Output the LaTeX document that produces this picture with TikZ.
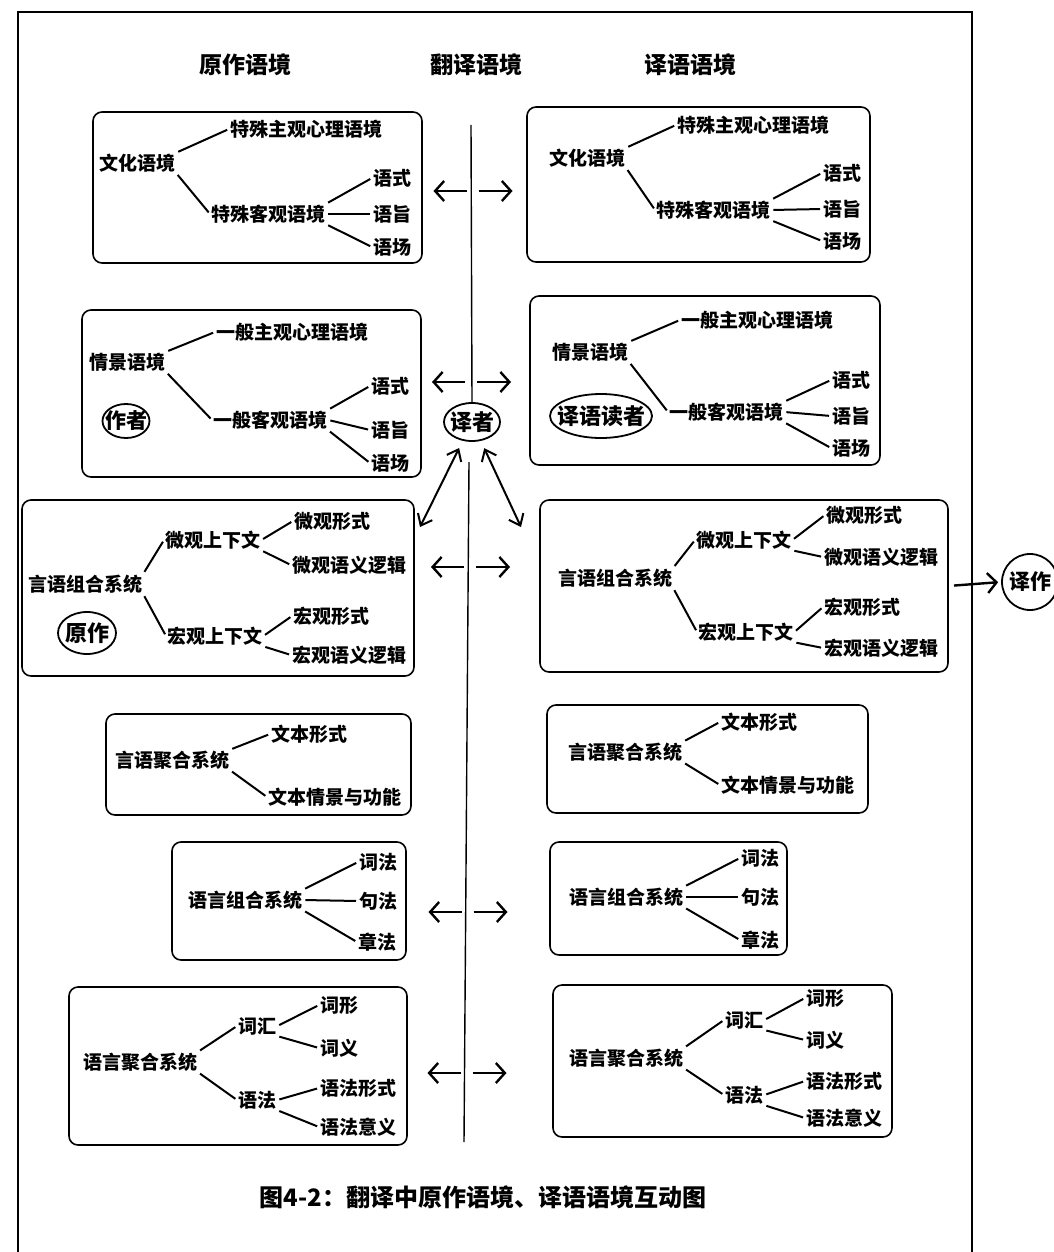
\documentclass[tikz,border=0pt]{standalone}
\usepackage{fontspec}
\setmainfont{Noto Sans CJK SC}
\usetikzlibrary{arrows.meta,shapes.geometric}
\begin{document}
\begin{tikzpicture}[x=1pt,y=-1pt,
  t/.style={font=\bfseries\fontsize{19}{19}\selectfont, inner sep=1pt, anchor=west},
  box/.style={draw, line width=1.6pt, rounded corners=9pt, anchor=north west, inner sep=0pt, outer sep=0pt},
  br/.style={line width=2pt, shorten >=2pt, shorten <=2pt},
  arr/.style={line width=2.4pt, -{Straight Barb[length=9pt,width=20pt]}},
  darr/.style={line width=2pt, {Straight Barb[length=10pt,width=16pt]}-{Straight Barb[length=10pt,width=16pt]}},
  hd/.style={font=\bfseries\fontsize{23}{23}\selectfont},
  circ/.style={draw, ellipse, line width=1.8pt, inner sep=-15pt, font=\bfseries\fontsize{22}{22}\selectfont},
  frame/.style={line width=1.4pt}
]
\useasboundingbox (0,0) rectangle (1053,1252);
% frame
\draw[frame] (18,1252) -- (18,12) -- (972,12) -- (972,1252);
% headings
\node[hd] (h1) at (245,65) {原作语境};
\node[hd] (h2) at (476,65) {翻译语境};
\node[hd] (h3) at (690,65) {译语语境};

% ===== left boxes =====
\node[box, minimum width=329, minimum height=151] (L1) at (93,112) {};
\node[t] (L1p) at (98,163) {文化语境};
\node[t] (L1a) at (229,129) {特殊主观心理语境};
\node[t] (L1b) at (210,214) {特殊客观语境};
\node[t] (L1b1) at (372,178) {语式};
\node[t] (L1b2) at (372,214) {语旨};
\node[t] (L1b3) at (372,247) {语场};
\draw[br] (L1p.north east) -- (L1a.west);
\draw[br] (L1p.south east) -- (L1b.west);
\draw[br] (L1b.north east) -- (L1b1.west);
\draw[br] (L1b.east) -- (L1b2.west);
\draw[br] (L1b.south east) -- (L1b3.west);

\node[box, minimum width=339, minimum height=167] (L2) at (82,310) {};
\node[t] (L2p) at (88,362) {情景语境};
\node[t] (L2a) at (215,332) {一般主观心理语境};
\node[t] (L2b) at (212,420) {一般客观语境};
\node[t] (L2b1) at (370,386) {语式};
\node[t] (L2b2) at (370,430) {语旨};
\node[t] (L2b3) at (370,463) {语场};
\node[circ, minimum width=47, minimum height=34, font=\bfseries\fontsize{21}{21}\selectfont] (zz) at (126,421) {作者};
\draw[br] (L2p.north east) -- (L2a.west);
\draw[br] (L2p.south east) -- (L2b.west);
\draw[br] (L2b.north east) -- (L2b1.west);
\draw[br] (L2b.east) -- (L2b2.west);
\draw[br] (L2b.south east) -- (L2b3.west);

\node[box, minimum width=392, minimum height=176] (L3) at (22,500) {};
\node[t] (L3p) at (27,584) {言语组合系统};
\node[circ, minimum width=58, minimum height=42] (yzo) at (87,633) {原作};
\node[t] (L3a) at (164,540) {微观上下文};
\node[t] (L3a1) at (293,521) {微观形式};
\node[t] (L3a2) at (291,565) {微观语义逻辑};
\node[t] (L3b) at (166,636) {宏观上下文};
\node[t] (L3b1) at (292,616) {宏观形式};
\node[t] (L3b2) at (291,655) {宏观语义逻辑};
\draw[br] (L3p.north east) -- (L3a.west);
\draw[br] (L3p.south east) -- (L3b.west);
\draw[br] (L3a.east) -- (L3a1.west);
\draw[br] (L3a.south east) -- (L3a2.west);
\draw[br] (L3b.east) -- (L3b1.west);
\draw[br] (L3b.south east) -- (L3b2.west);

\node[box, minimum width=305, minimum height=101] (L4) at (106,714) {};
\node[t] (L4p) at (114,760) {言语聚合系统};
\node[t] (L4a) at (270,734) {文本形式};
\node[t] (L4b) at (267,797) {文本情景与功能};
\draw[br] (L4p.north east) -- (L4a.west);
\draw[br] (L4p.south east) -- (L4b.west);

\node[box, minimum width=234, minimum height=118] (L5) at (172,842) {};
\node[t] (L5p) at (187,900) {语言组合系统};
\node[t] (L5a) at (358,862) {词法};
\node[t] (L5b) at (358,901) {句法};
\node[t] (L5c) at (357,942) {章法};
\draw[br] (L5p.north east) -- (L5a.west);
\draw[br] (L5p.east) -- (L5b.west);
\draw[br] (L5p.south east) -- (L5c.west);

\node[box, minimum width=338, minimum height=158] (L6) at (69,987) {};
\node[t] (L6p) at (82,1062) {语言聚合系统};
\node[t] (L6a) at (237,1026) {词汇};
\node[t] (L6a1) at (319,1005) {词形};
\node[t] (L6a2) at (319,1048) {词义};
\node[t] (L6b) at (237,1100) {语法};
\node[t] (L6b1) at (319,1088) {语法形式};
\node[t] (L6b2) at (319,1127) {语法意义};
\draw[br] (L6p.north east) -- (L6a.west);
\draw[br] (L6p.south east) -- (L6b.west);
\draw[br] (L6a.east) -- (L6a1.west);
\draw[br] (L6a.south east) -- (L6a2.west);
\draw[br] (L6b.east) -- (L6b1.west);
\draw[br] (L6b.south east) -- (L6b2.west);

% ===== right boxes =====
\node[box, minimum width=343, minimum height=155] (R1) at (527,107) {};
\node[t] (R1p) at (548,158) {文化语境};
\node[t] (R1a) at (676,125) {特殊主观心理语境};
\node[t] (R1b) at (655,210) {特殊客观语境};
\node[t] (R1b1) at (822,173) {语式};
\node[t] (R1b2) at (822,209) {语旨};
\node[t] (R1b3) at (822,241) {语场};
\draw[br] (R1p.north east) -- (R1a.west);
\draw[br] (R1p.south east) -- (R1b.west);
\draw[br] (R1b.north east) -- (R1b1.west);
\draw[br] (R1b.east) -- (R1b2.west);
\draw[br] (R1b.south east) -- (R1b3.west);

\node[box, minimum width=350, minimum height=169] (R2) at (530,296) {};
\node[t] (R2p) at (551,352) {情景语境};
\node[t] (R2a) at (680,320) {一般主观心理语境};
\node[t] (R2b) at (668,412) {一般客观语境};
\node[t] (R2b1) at (831,380) {语式};
\node[t] (R2b2) at (831,416) {语旨};
\node[t] (R2b3) at (831,448) {语场};
\node[circ, minimum width=102, minimum height=44] (dz) at (601,416) {译语读者};
\draw[br] (R2p.north east) -- (R2a.west);
\draw[br] (R2p.south east) -- (R2b.west);
\draw[br] (R2b.north east) -- (R2b1.west);
\draw[br] (R2b.east) -- (R2b2.west);
\draw[br] (R2b.south east) -- (R2b3.west);

\node[box, minimum width=408, minimum height=172] (R3) at (540,500) {};
\node[t] (R3p) at (557,578) {言语组合系统};
\node[t] (R3a) at (695,540) {微观上下文};
\node[t] (R3a1) at (825,515) {微观形式};
\node[t] (R3a2) at (823,557) {微观语义逻辑};
\node[t] (R3b) at (697,632) {宏观上下文};
\node[t] (R3b1) at (823,607) {宏观形式};
\node[t] (R3b2) at (823,648) {宏观语义逻辑};
\draw[br] (R3p.north east) -- (R3a.west);
\draw[br] (R3p.south east) -- (R3b.west);
\draw[br] (R3a.east) -- (R3a1.west);
\draw[br] (R3a.south east) -- (R3a2.west);
\draw[br] (R3b.east) -- (R3b1.west);
\draw[br] (R3b.south east) -- (R3b2.west);

\node[box, minimum width=321, minimum height=108] (R4) at (547,705) {};
\node[t] (R4p) at (567,752) {言语聚合系统};
\node[t] (R4a) at (720,722) {文本形式};
\node[t] (R4b) at (720,785) {文本情景与功能};
\draw[br] (R4p.north east) -- (R4a.west);
\draw[br] (R4p.south east) -- (R4b.west);

\node[box, minimum width=237, minimum height=113] (R5) at (550,842) {};
\node[t] (R5p) at (568,897) {语言组合系统};
\node[t] (R5a) at (740,858) {词法};
\node[t] (R5b) at (740,897) {句法};
\node[t] (R5c) at (740,940) {章法};
\draw[br] (R5p.north east) -- (R5a.west);
\draw[br] (R5p.east) -- (R5b.west);
\draw[br] (R5p.south east) -- (R5c.west);

\node[box, minimum width=339, minimum height=152] (R6) at (553,985) {};
\node[t] (R6p) at (568,1058) {语言聚合系统};
\node[t] (R6a) at (724,1020) {词汇};
\node[t] (R6a1) at (805,998) {词形};
\node[t] (R6a2) at (805,1040) {词义};
\node[t] (R6b) at (724,1095) {语法};
\node[t] (R6b1) at (805,1081) {语法形式};
\node[t] (R6b2) at (805,1118) {语法意义};
\draw[br] (R6p.north east) -- (R6a.west);
\draw[br] (R6p.south east) -- (R6b.west);
\draw[br] (R6a.east) -- (R6a1.west);
\draw[br] (R6a.south east) -- (R6a2.west);
\draw[br] (R6b.east) -- (R6b1.west);
\draw[br] (R6b.south east) -- (R6b2.west);

% ===== centre =====
\node[circ, minimum width=56, minimum height=38] (yz) at (472,422) {译者};
\coordinate (ctop) at (471,125);
\coordinate (cmid) at (469,462);
\coordinate (cbot) at (464,1142);
\draw[frame] (ctop) -- (yz.north);
\draw[frame] (cmid) -- (cbot);
\foreach \i/\yy/\xx in {1/191/470.5,2/382/469,3/567/468,4/912/465.5,5/1073/464.5}{
  \coordinate (la\i) at (\xx-4,\yy);
  \coordinate (lb\i) at (\xx-37,\yy);
  \coordinate (ra\i) at (\xx+8,\yy);
  \coordinate (rb\i) at (\xx+42,\yy);
  \draw[arr] (la\i) -- (lb\i);
  \draw[arr] (ra\i) -- (rb\i);
}
\coordinate (dle) at (420,527);
\coordinate (dre) at (521,527);
\draw[darr, shorten <=8pt] (yz) -- (dle);
\draw[darr, shorten <=8pt] (yz) -- (dre);

% translation output
\node[circ, circle, minimum size=56pt, font=\bfseries\fontsize{21}{21}\selectfont] (yzuo) at (1030,582) {译作};
\draw[arr, shorten <=6pt, shorten >=3pt] (R3.east) -- (yzuo.west);

% caption
\node[hd, font=\bfseries\fontsize{24}{24}\selectfont] (cap) at (483,1197) {图4-2：翻译中原作语境、译语语境互动图};
\end{tikzpicture}
\end{document}
